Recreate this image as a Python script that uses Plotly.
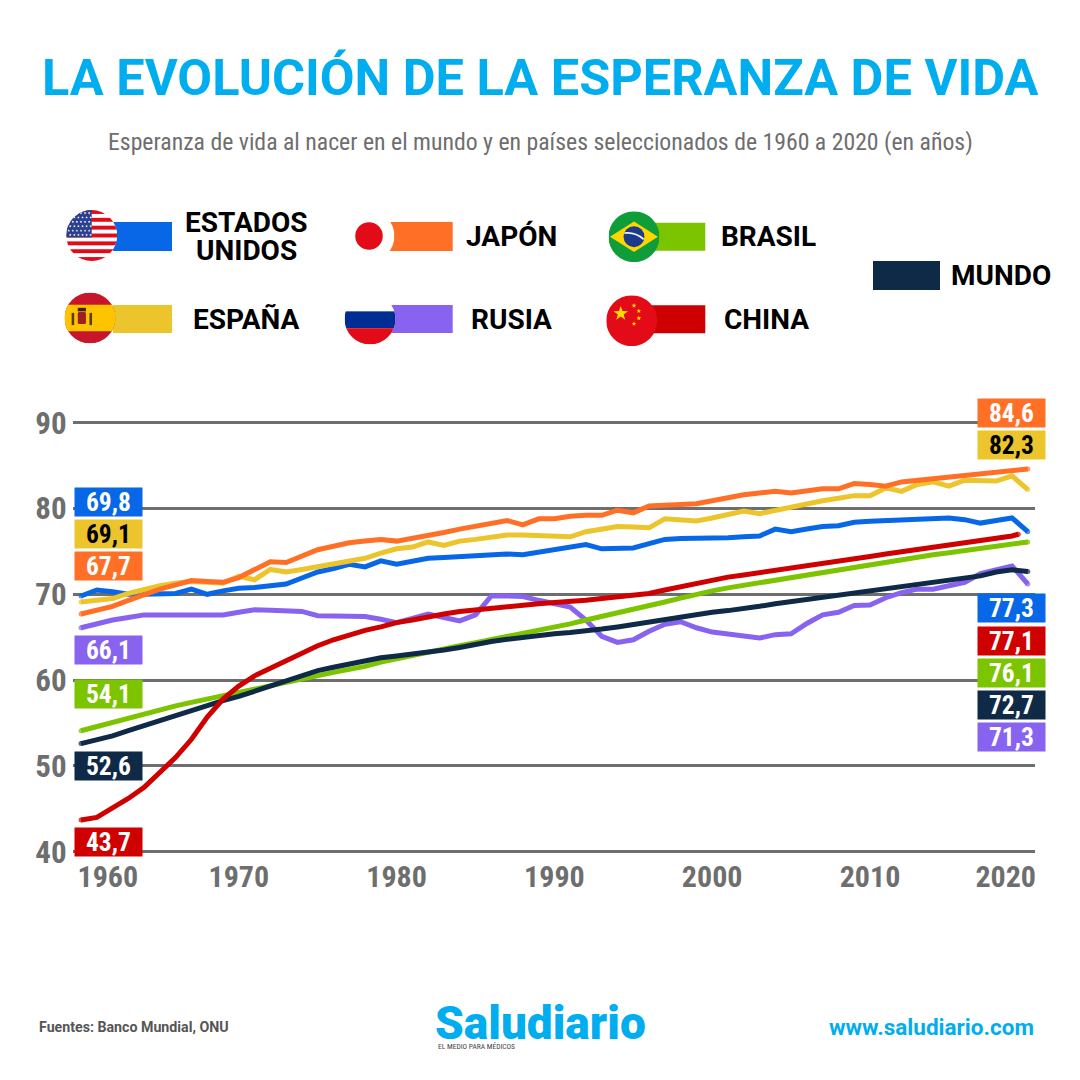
import base64
import math
import plotly.graph_objects as go

years = list(range(1960, 2021))
usa = [69.8,70.5,70.3,70.0,70.0,70.0,70.1,70.6,70.0,70.4,70.7,70.8,71.0,71.2,71.9,72.6,73.0,73.5,73.2,73.9,73.5,73.9,74.2,74.3,74.4,74.5,74.5,74.7,74.6,74.9,75.2,75.5,75.8,75.3,75.4,75.4,75.9,76.4,76.5,76.5,76.5,76.6,76.7,76.8,77.6,77.3,77.6,77.9,78.0,78.4,78.5,78.6,78.6,78.7,78.85,78.9,78.7,78.3,78.6,78.9,77.3]
spain = [69.1,69.3,69.5,70.1,70.6,71.0,71.3,71.5,71.4,71.3,72.1,71.7,72.9,72.6,72.9,73.2,73.5,73.8,74.2,74.8,75.3,75.5,76.1,75.7,76.2,76.4,76.6,76.9,76.9,76.8,76.75,76.7,77.3,77.55,77.9,77.85,77.75,78.8,78.7,78.55,78.9,79.3,79.7,79.4,79.8,80.2,80.6,80.9,81.2,81.5,81.5,82.4,82.0,82.8,83.1,82.6,83.3,83.3,83.2,83.8,82.2]
japan = [67.7,68.1,68.6,69.3,70.0,70.6,71.1,71.6,71.5,71.4,71.95,72.9,73.8,73.7,74.4,75.2,75.6,76.0,76.2,76.4,76.2,76.5,76.9,77.2,77.6,77.9,78.2,78.6,78.1,78.8,78.8,79.1,79.2,79.2,79.8,79.5,80.3,80.4,80.5,80.55,80.9,81.3,81.6,81.8,82.0,81.8,82.0,82.3,82.3,82.9,82.8,82.6,83.1,83.3,83.5,83.7,83.9,84.1,84.3,84.4,84.6]
russia = [66.1,66.6,67.0,67.3,67.6,67.6,67.6,67.6,67.6,67.6,67.9,68.2,68.15,68.1,68.0,67.5,67.5,67.4,67.4,67.1,66.7,67.2,67.7,67.3,66.9,67.6,69.8,69.8,69.75,69.3,68.9,68.5,67.0,65.1,64.4,64.7,65.7,66.5,66.8,66.1,65.6,65.4,65.1,64.9,65.3,65.4,66.6,67.6,67.9,68.7,68.75,69.6,70.2,70.6,70.6,71.0,71.4,72.4,72.9,73.3,71.2]
brazil = [54.1,54.6,55.05,55.5,55.95,56.5,57.0,57.4,57.8,58.2,58.6,59.0,59.4,59.8,60.2,60.55,60.9,61.25,61.6,62.1,62.5,62.9,63.25,63.6,64.0,64.35,64.7,65.1,65.45,65.8,66.2,66.55,67.0,67.4,67.85,68.25,68.7,69.1,69.55,70.0,70.4,70.75,71.05,71.35,71.7,72.0,72.3,72.6,72.9,73.2,73.5,73.8,74.1,74.35,74.6,74.85,75.1,75.35,75.6,75.85,76.1]
world = [52.6,53.0,53.5,54.1,54.7,55.3,55.9,56.4,57.0,57.6,58.1,58.7,59.3,59.9,60.5,61.1,61.5,61.9,62.3,62.6,62.8,63.0,63.25,63.5,63.8,64.2,64.5,64.75,65.0,65.2,65.4,65.55,65.7,65.95,66.2,66.5,66.8,67.05,67.3,67.6,67.9,68.1,68.3,68.6,68.9,69.15,69.4,69.65,69.9,70.15,70.45,70.7,70.95,71.2,71.4,71.65,71.9,72.15,72.6,72.85,72.65]
china_years = years[:-1] + [2019.4]
china = [43.7,44.0,45.1,46.2,47.5,49.3,51.0,53.1,55.7,57.8,59.3,60.5,61.4,62.3,63.1,64.0,64.7,65.3,65.8,66.2,66.7,67.0,67.4,67.7,68.0,68.2,68.4,68.6,68.8,68.9,69.05,69.15,69.3,69.5,69.7,69.9,70.1,70.5,70.9,71.3,71.7,72.0,72.25,72.5,72.8,73.05,73.3,73.6,73.9,74.15,74.4,74.7,74.95,75.2,75.5,75.75,76.0,76.3,76.55,76.8,77.0]

BLUE, YELLOW, ORANGE, PURPLE = "#0767E6", "#ECC52C", "#FF7026", "#8863F0"
GREEN, NAVY, RED = "#7DC400", "#0F2A47", "#CF0000"
GRAY, CYAN = "#6E6E6E", "#00AEEF"
NARROW = "Roboto Condensed, Liberation Sans, sans-serif"
HEAD = "Roboto, Open Sans, sans-serif"

series = [
    (years, usa, BLUE), (years, spain, YELLOW), (years, japan, ORANGE), (years, russia, PURPLE),
    (years, brazil, GREEN), (years, world, NAVY), (china_years, china, RED),
]

x_ticks = [1961.7, 1970, 1980, 1990, 2000, 2010, 2018.6]
x_labels = ["1960", "1970", "1980", "1990", "2000", "2010", "2020"]
y_ticks = [40, 50, 60, 70, 80, 90]

left_boxes = [("69,8", 501.7, BLUE, "white"), ("69,1", 534, YELLOW, "black"), ("67,7", 565.5, ORANGE, "white"),
              ("66,1", 650, PURPLE, "white"), ("54,1", 694, GREEN, "white"), ("52,6", 765.5, NAVY, "white"),
              ("43,7", 841.7, RED, "white")]
right_boxes = [("84,6", 412.7, ORANGE, "white"), ("82,3", 445.3, YELLOW, "black"), ("77,3", 608, BLUE, "white"),
               ("77,1", 641, RED, "white"), ("76,1", 673, GREEN, "white"), ("72,7", 705, NAVY, "white"),
               ("71,3", 737, PURPLE, "white")]

legend_bars = [(113, 172, 222, 251, BLUE), (385, 452.7, 222, 251, ORANGE), (650, 705.3, 222.7, 250.7, GREEN),
               (113, 172, 305, 333, YELLOW), (385, 452.7, 305, 333, PURPLE), (650, 705.3, 305.3, 333.3, RED),
               (873, 940, 261, 290, NAVY)]
legend_texts = [("ESTADOS", 246, 222), ("UNIDOS", 246, 250), ("JAPÓN", 511, 236), ("BRASIL", 768, 236),
                ("ESPAÑA", 246, 319), ("RUSIA", 511, 319), ("CHINA", 767, 319), ("MUNDO", 1001, 275)]

# The page's body margin moves the figure by 8 px.
OFF = 8


def px(x): return (x - OFF) / 1080
def py(y): return 1 - (y - OFF) / 1080


def star(cx, cy, r, fill="#fff"):
    pts = []
    for i in range(10):
        a = -math.pi / 2 + i * math.pi / 5
        q = r if i % 2 == 0 else r * 0.4
        pts.append(f"{cx + q * math.cos(a):.2f},{cy + q * math.sin(a):.2f}")
    return f'<polygon points="{" ".join(pts)}" fill="{fill}"/>'


def flag_usa():
    s = '<rect width="100" height="100" fill="#fff"/>'
    for i in range(0, 13, 2):
        s += f'<rect y="{i * 100 / 13:.2f}" width="100" height="{100 / 13:.2f}" fill="#E30B17"/>'
    s += '<rect width="50" height="53.8" fill="#2A3F8F"/>'
    for r in range(6):
        for c in range(6):
            s += star(5 + c * 8 + (r % 2) * 3, 6 + r * 8.6, 2.8)
    return s


def flag_japan():
    return '<rect width="100" height="100" fill="#fff"/><circle cx="50" cy="50" r="27" fill="#E30B17"/>'


def flag_brazil():
    return ('<rect width="100" height="100" fill="#0F9D3A"/>'
            '<polygon points="50,20 97,50 50,80 3,50" fill="#FFD400"/>'
            '<circle cx="50" cy="50" r="20.5" fill="#1B3A8C"/>'
            '<path d="M31,43 Q52,40 69,55" stroke="#e8f0e8" stroke-width="3.5" fill="none"/>')


def flag_spain():
    return ('<rect width="100" height="100" fill="#C9152C"/>'
            '<rect y="24" width="100" height="52" fill="#FFC400"/>'
            '<rect x="26" y="38" width="16" height="24" rx="3" fill="#A01E22"/>'
            '<rect x="14" y="40" width="5" height="24" fill="#5A3A1A"/>'
            '<rect x="49" y="40" width="5" height="24" fill="#5A3A1A"/>'
            '<rect x="26" y="30" width="16" height="7" fill="#3A2410"/>')


def flag_russia():
    return ('<rect width="100" height="100" fill="#fff"/>'
            '<rect y="35" width="100" height="33" fill="#002D93"/>'
            '<rect y="68" width="100" height="32" fill="#E30B17"/>')


def flag_china():
    s = '<rect width="100" height="100" fill="#E30B17"/>' + star(28.5, 36, 15, "#FFDE00")
    for cx, cy in [(54.5, 20.5), (64, 31), (64, 45), (54.5, 56)]:
        s += star(cx, cy, 5, "#FFDE00")
    return s


def flag_uri(body):
    svg = ('<svg xmlns="http://www.w3.org/2000/svg" viewBox="0 0 100 100" width="200" height="200">'
           '<defs><clipPath id="c"><circle cx="50" cy="50" r="50"/></clipPath></defs>'
           f'<g clip-path="url(#c)">{body}</g></svg>')
    return "data:image/svg+xml;base64," + base64.b64encode(svg.encode()).decode()


flags = [(flag_usa(), 91.7, 235.5, 25.5), (flag_japan(), 369, 236, 25.5), (flag_brazil(), 634, 236.7, 25.5),
         (flag_spain(), 90, 318, 25.5), (flag_russia(), 370, 319, 25.5), (flag_china(), 631.7, 320.7, 25.5)]

fig = go.Figure()
for xs, ys, col in series:
    sizes = [5] + [0] * (len(ys) - 2) + [5]
    fig.add_trace(go.Scatter(x=xs, y=ys, mode="lines+markers", line=dict(color=col, width=5),
                             marker=dict(color=col, size=sizes, line=dict(width=0)),
                             hoverinfo="skip", showlegend=False))

annotations = []


def txt(text, x, y, size, color, family=HEAD, weight=700, **kw):
    annotations.append(dict(text=text, x=px(x), y=py(y), xref="paper", yref="paper", showarrow=False,
                            xanchor=kw.pop("xanchor", "center"), yanchor="middle",
                            font=dict(size=size, color=color, family=family, weight=weight), **kw))


txt("LA EVOLUCIÓN DE LA ESPERANZA DE VIDA", 540, 77, 50.5, CYAN)
txt("Esperanza de vida al nacer en el mundo y en países seleccionados de 1960 a 2020 (en años)", 540, 142, 23.75,
    GRAY, NARROW, 400)
for t, x, y in legend_texts:
    txt(t, x, y, 28, "black")
for boxes, cx in ((left_boxes, 108.4), (right_boxes, 1011.7)):
    for t, y, bg, fg in boxes:
        txt(t, cx, y, 25.5, fg, NARROW, 700, bgcolor=bg, width=66.7, height=28, borderpad=0)
txt("Fuentes: Banco Mundial, ONU", 37, 1027, 14.2, "#555555", HEAD, 700, xanchor="left")
txt("www.saludiario.com", 1036, 1027, 22.5, CYAN, HEAD, 700, xanchor="right")
txt("Saludiario", 540, 1023, 46, CYAN, HEAD, 900, height=40)
txt("EL MEDIO PARA MÉDICOS", 436, 1046, 7.5, "#444444", NARROW, 400, xanchor="left")

shapes = [dict(type="rect", xref="paper", yref="paper", x0=px(a), x1=px(b), y0=py(d), y1=py(c),
               fillcolor=col, line=dict(width=0), layer="below") for a, b, c, d, col in legend_bars]
images = [dict(source=flag_uri(b), xref="paper", yref="paper", x=px(cx - r), y=py(cy - r),
               sizex=2 * r / 1080, sizey=2 * r / 1080, sizing="stretch", xanchor="left", yanchor="top",
               layer="above") for b, cx, cy, r in flags]

fig.update_layout(
    width=1080, height=1080, margin=dict(l=0, r=0, t=0, b=0, autoexpand=False),
    paper_bgcolor="white", plot_bgcolor="white",
    showlegend=False, shapes=shapes, images=images, annotations=annotations,
    xaxis=dict(domain=[px(72.7), px(1035)], range=[1959.474, 2020.456], tickmode="array", tickvals=x_ticks,
               ticktext=x_labels, showgrid=False, zeroline=False, showline=False, ticks="",
               tickfont=dict(size=30, color=GRAY, family=NARROW, weight=700), fixedrange=True),
    yaxis=dict(domain=[py(856), py(410)], range=[39.5, 91.48], tickmode="array", tickvals=y_ticks,
               showgrid=True, gridcolor=GRAY, gridwidth=3, zeroline=False, showline=False, ticks="",
               ticklabelstandoff=5,
               tickfont=dict(size=31, color=GRAY, family=NARROW, weight=700), fixedrange=True),
)
fig.write_html("out.html", config={"displayModeBar": False})
